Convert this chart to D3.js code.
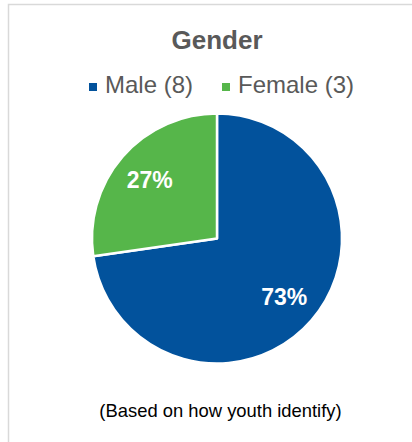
<!DOCTYPE html>
<html>
<head>
<meta charset="utf-8">
<script src="https://cdn.jsdelivr.net/npm/d3@7"></script>
<style>
  html, body { margin: 0; padding: 0; background: #fff; }
  svg { display: block; font-family: "Liberation Sans", Arial, sans-serif; }
</style>
</head>
<body>
<svg id="chart" width="412" height="442"></svg>
<script>
// Gender breakdown
const categories = ["Male", "Female"];
const counts = [8, 3];
const colors = ["#02529c", "#56b64a"];
const title = "Gender";
const note = "(Based on how youth identify)";

const svg = d3.select("#chart");
const W = 412, H = 442;

// chart frame (runs off the right and bottom edges)
svg.append("rect")
  .attr("x", 8.5).attr("y", 4.5)
  .attr("width", W + 20).attr("height", H + 20)
  .attr("fill", "#fff")
  .attr("stroke", "#d9d9d9").attr("stroke-width", 1.5);

// title
svg.append("text")
  .attr("x", 217).attr("y", 49)
  .attr("text-anchor", "middle")
  .attr("font-size", 26).attr("font-weight", "bold")
  .attr("fill", "#595959")
  .text(title);

// legend
const total = d3.sum(counts);
const legendItems = categories.map((c, i) => ({ label: `${c} (${counts[i]})`, color: colors[i] }));
const legendX = [89, 222];
const legend = svg.append("g");
legendItems.forEach((d, i) => {
  const g = legend.append("g").attr("transform", `translate(${legendX[i]},0)`);
  g.append("rect").attr("x", 0).attr("y", 83).attr("width", 8).attr("height", 8).attr("fill", d.color);
  g.append("text").attr("x", 16).attr("y", 93)
    .attr("font-size", 24).attr("fill", "#595959").text(d.label);
});

// pie
const cx = 217, cy = 238.5, R = 125;
const pie = d3.pie().sort(null).value(d => d)(counts);
const arc = d3.arc().innerRadius(0).outerRadius(R);
const labelArc = d3.arc().innerRadius(89).outerRadius(89);

const g = svg.append("g").attr("transform", `translate(${cx},${cy})`);
g.selectAll("path.slice").data(pie).join("path")
  .attr("class", "slice")
  .attr("d", arc)
  .attr("fill", (d, i) => colors[i])
  .attr("stroke", "#fff").attr("stroke-width", 2.5)
  .attr("stroke-linejoin", "round");

g.selectAll("text.pct").data(pie).join("text")
  .attr("class", "pct")
  .attr("transform", d => `translate(${labelArc.centroid(d)})`)
  .attr("text-anchor", "middle")
  .attr("dy", "0.36em")
  .attr("font-size", 23).attr("font-weight", "bold")
  .attr("fill", "#fff")
  .text(d => d3.format(".0%")(d.value / total));

// footnote
svg.append("text")
  .attr("x", 220.5).attr("y", 417)
  .attr("text-anchor", "middle")
  .attr("font-size", 18.4).attr("fill", "#000")
  .text(note);
</script>
</body>
</html>
